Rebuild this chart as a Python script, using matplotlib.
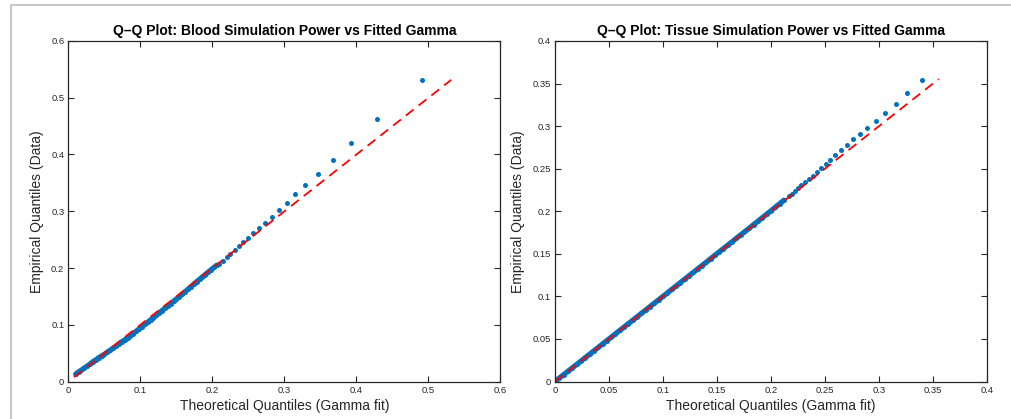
import numpy as np
import matplotlib
matplotlib.use("Agg")
from matplotlib import pyplot as plt
from matplotlib.lines import Line2D

plt.rcParams['font.family'] = ['Liberation Sans', 'DejaVu Sans']

# Blood simulation power: theoretical (gamma fit) vs empirical quantiles
BLOOD_THEO = [0.010, 0.014, 0.018, 0.022, 0.026, 0.030, 0.034, 0.038, 0.042, 0.046,
              0.050, 0.054, 0.058, 0.062, 0.066, 0.070, 0.074, 0.078, 0.082, 0.086,
              0.090, 0.094, 0.098, 0.102, 0.106, 0.110, 0.114, 0.118, 0.122, 0.126,
              0.130, 0.134, 0.138, 0.142, 0.146, 0.150, 0.154, 0.158, 0.162, 0.166,
              0.170, 0.174, 0.178, 0.182, 0.186, 0.190, 0.194, 0.198, 0.202, 0.206,
              0.2089, 0.2144, 0.2195, 0.2250, 0.2306, 0.2367, 0.2427, 0.2497, 0.2566, 0.2645,
              0.2730, 0.2820, 0.2920, 0.3030, 0.3150, 0.3290, 0.3460, 0.3670, 0.3930, 0.4291,
              0.4907]
BLOOD_EMP = [0.013, 0.017, 0.020, 0.024, 0.027, 0.031, 0.035, 0.038, 0.042, 0.045,
             0.048, 0.052, 0.055, 0.059, 0.062, 0.066, 0.070, 0.073, 0.077, 0.081,
             0.0845, 0.0885, 0.0925, 0.0965, 0.1005, 0.1045, 0.1085, 0.1125, 0.1165, 0.1208,
             0.125, 0.129, 0.133, 0.1371, 0.1413, 0.1455, 0.1497, 0.1539, 0.1582, 0.1626,
             0.167, 0.1714, 0.1758, 0.1801, 0.1843, 0.1885, 0.1927, 0.1969, 0.201, 0.205,
             0.2076, 0.2129, 0.2188, 0.2252, 0.2317, 0.2382, 0.2458, 0.2534, 0.2617, 0.2705,
             0.2800, 0.2900, 0.3020, 0.3150, 0.3300, 0.3460, 0.3660, 0.3900, 0.4200, 0.4626,
             0.5307]
BLOOD_DENSE = 50      # first points are packed into a continuous band
BLOOD_REF = [0.0077, 0.5316]

# Tissue simulation power
TISSUE_THEO = [0.001, 0.004, 0.008, 0.012, 0.016, 0.020, 0.024, 0.028, 0.032, 0.036,
               0.040, 0.044, 0.048, 0.052, 0.056, 0.060, 0.064, 0.068, 0.072, 0.076,
               0.080, 0.084, 0.088, 0.092, 0.096, 0.100, 0.104, 0.108, 0.112, 0.116,
               0.120, 0.124, 0.128, 0.132, 0.136, 0.140, 0.144, 0.148, 0.152, 0.156,
               0.160, 0.164, 0.168, 0.172, 0.176, 0.180, 0.184, 0.188, 0.192, 0.196,
               0.200, 0.204, 0.208, 0.212,
               0.2164, 0.2191, 0.2222, 0.2250, 0.2281, 0.2315, 0.2349, 0.2386, 0.2423, 0.2463,
               0.2506, 0.2549, 0.2596, 0.2648, 0.2701, 0.2762, 0.2824, 0.2892, 0.2969, 0.3059,
               0.3157, 0.3262, 0.3398]
TISSUE_EMP = [0.001, 0.004, 0.008, 0.012, 0.016, 0.020, 0.024, 0.028, 0.032, 0.036,
              0.040, 0.044, 0.048, 0.052, 0.056, 0.060, 0.064, 0.068, 0.072, 0.076,
              0.080, 0.084, 0.088, 0.092, 0.096, 0.1000, 0.1040, 0.1081, 0.1121, 0.1161,
              0.1201, 0.1241, 0.1281, 0.1321, 0.1361, 0.1401, 0.1442, 0.1482, 0.1522, 0.1562,
              0.1602, 0.1642, 0.1683, 0.1723, 0.1763, 0.1803, 0.1844, 0.1884, 0.1925, 0.1965,
              0.2006, 0.2047, 0.2088, 0.2130,
              0.2175, 0.2206, 0.2238, 0.2273, 0.2305, 0.2344, 0.2379, 0.2418, 0.2465, 0.2508,
              0.2555, 0.2602, 0.2657, 0.2716, 0.2778, 0.2845, 0.2907, 0.2982, 0.3066, 0.3156,
              0.3264, 0.3389, 0.3542]
TISSUE_DENSE = 54
TISSUE_REF = [0.0, 0.3553]

BLUE = "#0072BD"
AX_COL = "#262626"

fig = plt.figure(figsize=(10.12, 4.19), dpi=100)

# light grey window frame on top and left
fig.add_artist(Line2D([10.5 / 1012, 1], [1 - 5.5 / 419, 1 - 5.5 / 419], color="#c8c8c8", lw=1.5))
fig.add_artist(Line2D([10.5 / 1012, 10.5 / 1012], [0, 1 - 5.5 / 419], color="#c8c8c8", lw=1.5))

def px_axes(x0, x1, y0, y1):
    W, H = 1012.0, 419.0
    return fig.add_axes([x0 / W, 1 - y1 / H, (x1 - x0) / W, (y1 - y0) / H])

def style(ax, lim, step, title):
    ax.set_xlim(0, lim)
    ax.set_ylim(0, lim)
    ticks = np.round(np.arange(0, lim + step / 2, step), 3)
    ax.set_xticks(ticks)
    ax.set_yticks(ticks)
    ax.set_xticklabels(["%g" % t for t in ticks])
    ax.set_yticklabels(["%g" % t for t in ticks])
    ax.tick_params(direction="in", length=4, width=0.8, colors=AX_COL, labelsize=6.8,
                   top=True, right=True, pad=3)
    for s in ax.spines.values():
        s.set_color(AX_COL)
        s.set_linewidth(0.9)
    ax.set_xlabel("Theoretical Quantiles (Gamma fit)", fontsize=10, color=AX_COL, labelpad=3)
    ax.set_ylabel("Empirical Quantiles (Data)", fontsize=10, color=AX_COL, labelpad=5)
    ax.set_title(title, fontsize=10, fontweight="bold", color="black", pad=4)

def qq(ax, theo, emp, n_dense, ref):
    # packed lower points form a solid band, upper tail stays as separate dots
    ax.plot(theo[:n_dense], emp[:n_dense], "-", color=BLUE, lw=3.8, solid_capstyle="round")
    ax.plot(theo, emp, "o", color=BLUE, ms=3.6, mew=0)
    ax.plot(ref, ref, color="red", lw=1.3, dashes=(5.5, 3.5))

ax1 = px_axes(68.5, 500.5, 41, 381.5)
qq(ax1, BLOOD_THEO, BLOOD_EMP, BLOOD_DENSE, BLOOD_REF)
style(ax1, 0.6, 0.1, "Q\u2013Q Plot: Blood Simulation Power vs Fitted Gamma")

ax2 = px_axes(555, 987, 41, 381.5)
qq(ax2, TISSUE_THEO, TISSUE_EMP, TISSUE_DENSE, TISSUE_REF)
style(ax2, 0.4, 0.05, "Q\u2013Q Plot: Tissue Simulation Power vs Fitted Gamma")

fig.savefig("out.png", dpi=100)
